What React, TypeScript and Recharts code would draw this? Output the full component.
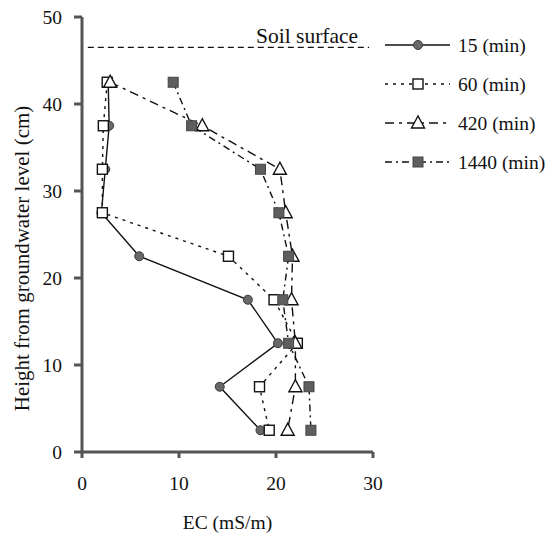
import React from "react";
import { ScatterChart, Scatter, XAxis, YAxis, ReferenceLine, Legend } from "recharts";

// heights of the sampling points, top to bottom (cm above groundwater)
const heights = [42.5, 37.5, 32.5, 27.5, 22.5, 17.5, 12.5, 7.5, 2.5];
const ec15 = [2.7, 2.8, 2.4, 2.0, 5.9, 17.1, 20.2, 14.2, 18.4];
const ec60 = [2.6, 2.2, 2.1, 2.1, 15.1, 19.8, 22.2, 18.3, 19.3];
const ec420 = [2.9, 12.4, 20.4, 21.0, 21.7, 21.6, 22.0, 22.0, 21.2];
const ec1440 = [9.4, 11.3, 18.4, 20.3, 21.3, 20.7, 21.3, 23.4, 23.6];

const xTicks = [0, 10, 20, 30];
const yTicks = [0, 10, 20, 30, 40, 50];
const soilSurface = 46.5;

const FONT = '"Liberation Serif", "Times New Roman", serif';
const INK = "#111";

type Kind = "circle" | "square" | "triangle" | "filledSquare";

const toPoints = (ec: number[]) => ec.map((v, i) => ({ ec: v, h: heights[i] }));

function Marker({ kind, cx, cy }: { kind: Kind; cx: number; cy: number }) {
  if (kind === "circle")
    return <circle cx={cx} cy={cy} r={4.5} fill="#686868" stroke="#3a3a3a" strokeWidth={1} />;
  if (kind === "square")
    return <rect x={cx - 5} y={cy - 5} width={10} height={10} fill="#fff" stroke={INK} strokeWidth={1.4} />;
  if (kind === "triangle")
    return (
      <polygon
        points={`${cx},${cy - 7} ${cx - 6.5},${cy + 5} ${cx + 6.5},${cy + 5}`}
        fill="#fff"
        stroke={INK}
        strokeWidth={1.4}
      />
    );
  return <rect x={cx - 5} y={cy - 5} width={10} height={10} fill="#5e5e5e" stroke="#444" strokeWidth={1} />;
}

const series: { name: string; data: { ec: number; h: number }[]; dash?: string; kind: Kind }[] = [
  { name: "15 (min)", data: toPoints(ec15), dash: undefined, kind: "circle" },
  { name: "60 (min)", data: toPoints(ec60), dash: "3 5", kind: "square" },
  { name: "420 (min)", data: toPoints(ec420), dash: "9 5 3 5", kind: "triangle" },
  { name: "1440 (min)", data: toPoints(ec1440), dash: "7 4 2 4", kind: "filledSquare" },
];

const renderLegend = () => (
  <svg width={182} height={170} style={{ display: "block", overflow: "visible" }}>
    {series.map((s, i) => {
      const y = 28 + i * 39;
      return (
        <g key={s.name}>
          <line x1={12} x2={77} y1={y} y2={y} stroke={INK} strokeWidth={1.4} strokeDasharray={s.dash} />
          <Marker kind={s.kind} cx={45} cy={y} />
          <text x={85} y={y} dominantBaseline="central" fontFamily={FONT} fontSize={19.5} fill={INK}>
            {s.name}
          </text>
        </g>
      );
    })}
  </svg>
);

const yLabel = (p: any) => {
  const vb = p.viewBox ?? { x: 22, y: 17, width: 60, height: 435 };
  const x = vb.x;
  const y = vb.y + vb.height / 2 + 24;
  return (
    <text
      x={x}
      y={y}
      transform={`rotate(-90, ${x}, ${y})`}
      textAnchor="middle"
      dominantBaseline="central"
      fontFamily={FONT}
      fontSize={21}
      fill={INK}
    >
      Height from groundwater level (cm)
    </text>
  );
};

const soilLabel = (p: any) => {
  const vb = p.viewBox ?? { x: 88, y: 47, width: 280, height: 0 };
  return (
    <text x={vb.x + vb.width - 11} y={vb.y - 4} textAnchor="end" fontFamily={FONT} fontSize={21.5} fill={INK}>
      Soil surface
    </text>
  );
};

const axisStyle = { stroke: "#555", strokeWidth: 3 };
const tickStyle = { fill: INK, fontSize: 19.5, fontFamily: FONT };

export default function App() {
  return (
    <div style={{ position: "absolute", left: 0, top: 0, background: "#fff", fontFamily: FONT }}>
      <ScatterChart width={556} height={535} margin={{ top: 17, right: 1, bottom: 23, left: 22 }}>
        <XAxis
          type="number"
          dataKey="ec"
          domain={[0, 30]}
          ticks={xTicks}
          height={60}
          tickSize={6}
          tickMargin={18}
          axisLine={axisStyle}
          tickLine={axisStyle}
          tick={tickStyle}
          label={{ value: "EC (mS/m)", position: "insideBottom", offset: -17, fill: INK, fontSize: 19.5, fontFamily: FONT }}
        />
        <YAxis
          type="number"
          dataKey="h"
          domain={[0, 50]}
          ticks={yTicks}
          width={60}
          tickSize={8}
          tickMargin={12}
          axisLine={axisStyle}
          tickLine={axisStyle}
          tick={tickStyle}
          label={yLabel}
        />
        <ReferenceLine
          segment={[
            { x: 0.6, y: soilSurface },
            { x: 29.6, y: soilSurface },
          ]}
          stroke={INK}
          strokeWidth={1.3}
          strokeDasharray="6 4"
          label={soilLabel}
        />
        <Legend layout="vertical" align="right" verticalAlign="top" width={182} content={renderLegend} />
        {series.map((s) => (
          <Scatter
            key={s.name}
            name={s.name}
            data={s.data}
            fill={INK}
            line={{ stroke: INK, strokeWidth: 1.4, strokeDasharray: s.dash }}
            lineJointType="linear"
            isAnimationActive={false}
            shape={(p: any) => <Marker kind={s.kind} cx={p.cx} cy={p.cy} />}
          />
        ))}
      </ScatterChart>
    </div>
  );
}
